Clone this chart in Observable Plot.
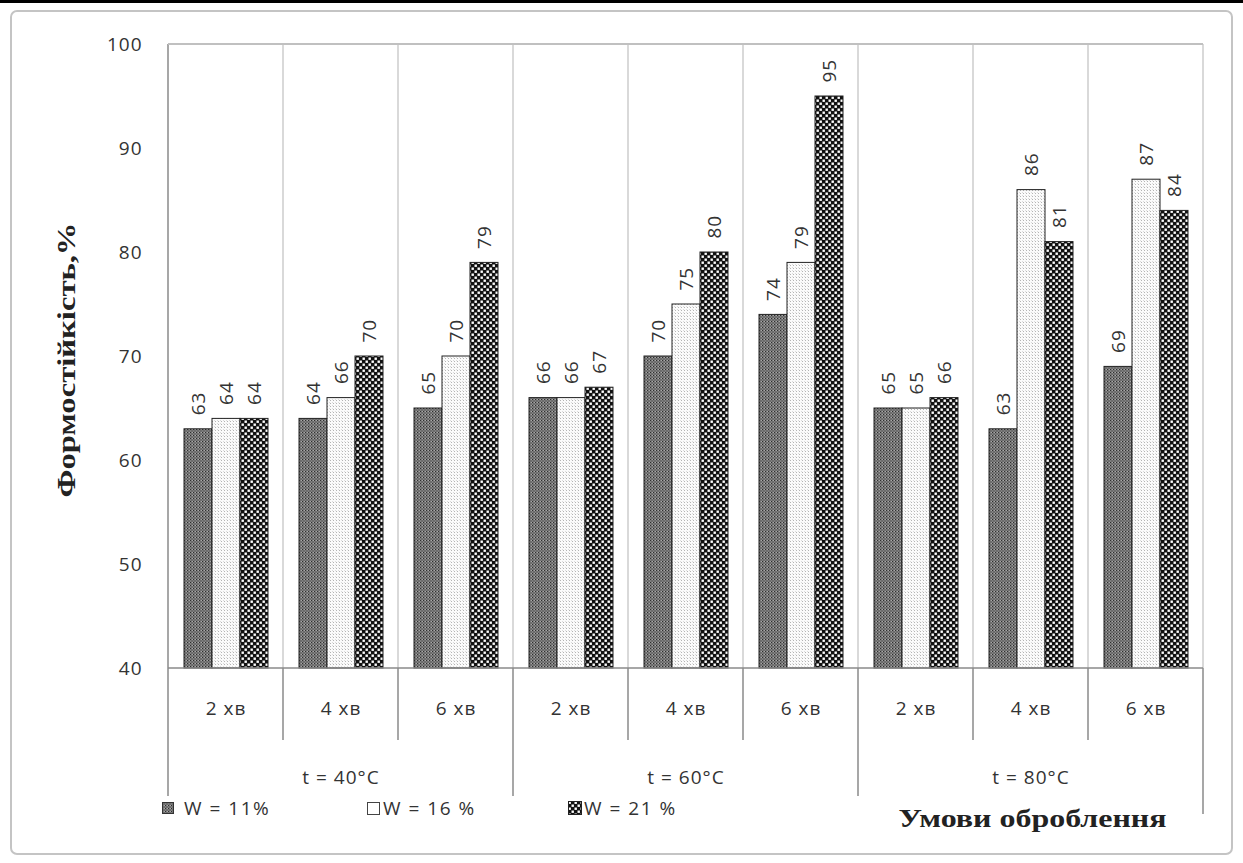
<!DOCTYPE html>
<html><head><meta charset="utf-8">
<script src="https://cdn.jsdelivr.net/npm/d3@7"></script>
<script src="https://cdn.jsdelivr.net/npm/@observablehq/plot@0.6"></script>
<style>
body{margin:0;background:#fff;}
#wrap{position:relative;width:1243px;height:863px;overflow:hidden;font-family:"Open Sans",sans-serif;color:#333;}
#topbar{position:absolute;left:0;top:0;width:1243px;height:3px;background:#000;}
#box{position:absolute;left:10px;top:10px;width:1219px;height:841px;border:2px solid #c4c4c4;border-radius:7px;}
#chart{position:absolute;left:0;top:0;}
.leg{position:absolute;top:797px;height:22px;font-size:19px;letter-spacing:1.5px;display:flex;align-items:center;color:#333;}
</style></head><body>
<svg width="0" height="0" style="position:absolute">
  <defs>
    <pattern id="p11" width="3" height="3" patternUnits="userSpaceOnUse">
      <rect width="3" height="3" fill="#7e7e7e"/>
      <rect x="0" y="0" width="1" height="1" fill="#2e2e2e"/>
      <rect x="1.5" y="1.5" width="1" height="1" fill="#3a3a3a"/>
      <rect x="2" y="0" width="1" height="1" fill="#a8a8a8"/>
    </pattern>
    <pattern id="p16" width="3" height="3" patternUnits="userSpaceOnUse">
      <rect width="3" height="3" fill="#fbfbfb"/>
      <rect x="1" y="1" width="1" height="1" fill="#b4b4b4"/>
      <rect x="0" y="0" width="1" height="1" fill="#dcdcdc"/>
    </pattern>
    <pattern id="p21" width="6" height="6" patternUnits="userSpaceOnUse">
      <rect width="6" height="6" fill="#111"/>
      <rect x="0.5" y="0.5" width="2.4" height="2.4" fill="#fff"/>
      <rect x="3.5" y="3.5" width="2.4" height="2.4" fill="#fff"/>
    </pattern>
  </defs>
</svg>
<div id="wrap">
  <div id="topbar"></div>
  <div id="box"></div>
  <div id="chart"></div>
  <div class="leg" style="left:162px"><svg width="12" height="12"><rect x="0.5" y="0.5" width="11" height="11" fill="url(#p11)" stroke="#333"/></svg><span style="margin-left:10px">W = 11%</span></div>
  <div class="leg" style="left:367px"><svg width="13" height="13"><rect x="0.5" y="0.5" width="12" height="12" fill="#fff" stroke="#444"/></svg><span style="margin-left:3px">W = 16 %</span></div>
  <div class="leg" style="left:568px"><svg width="14" height="14"><rect x="0.5" y="0.5" width="13" height="13" fill="url(#p21)" stroke="#222"/></svg><span style="margin-left:2px">W = 21 %</span></div>
</div>
<script>
// ---- data ----
const groups = ["t = 40°C", "t = 60°C", "t = 80°C"];
const times = ["2 хв", "4 хв", "6 хв"];
const series = ["W = 11%", "W = 16 %", "W = 21 %"];
const w11 = [63, 64, 65, 66, 70, 74, 65, 63, 69];
const w16 = [64, 66, 70, 66, 75, 79, 65, 86, 87];
const w21 = [64, 70, 79, 67, 80, 95, 66, 81, 84];
const yTicks = [40, 50, 60, 70, 80, 90, 100];
const yTitle = "Формостійкість,%";
const xTitle = "Умови оброблення";

const values = [w11, w16, w21];
const cells = d3.range(groups.length * times.length);
const rows = [];
cells.forEach(i => series.forEach((s, j) => rows.push({k: i, s, v: values[j][i]})));
const groupRows = groups.map((g, i) => ({k: i * times.length + 1, g}));

const W = 1243, H = 840, mL = 164, mR = 37, mT = 44, mB = 172;

const plot = Plot.plot({
  width: W, height: H,
  marginLeft: mL, marginRight: mR, marginTop: mT, marginBottom: mB,
  style: {fontFamily: "'Open Sans', sans-serif", fontSize: "19px", color: "#333", letterSpacing: "1px", background: "transparent"},
  fx: {domain: cells, padding: 0, axis: "bottom", tickSize: 0, tickPadding: 33, tickFormat: i => times[i % times.length], label: null, fontSize: 18},
  x: {domain: series, paddingInner: 0, paddingOuter: 0.53, axis: null},
  y: {domain: [40, 100], ticks: yTicks, tickSize: 0, tickPadding: 26, label: null},
  color: {type: "ordinal", domain: series, range: ["url(#p11)", "url(#p16)", "url(#p21)"]},
  marks: [
    Plot.barY(rows, {fx: "k", x: "s", y1: 40, y2: "v", fill: "s", stroke: "#222", strokeWidth: 1}),
    Plot.text(rows, {fx: "k", x: "s", y: "v", text: d => String(d.v), rotate: -90, textAnchor: "start", dy: -14, fill: "#333", fontSize: 19}),
    Plot.text(groupRows, {fx: "k", text: "g", frameAnchor: "bottom", dy: 115, fill: "#333", fontSize: 19})
  ]
});

// separators / frame lines built from the fx scale
const fx = plot.scale("fx");
const bw = fx.bandwidth;
const edges = cells.map(k => fx.apply(k)).concat([fx.apply(cells[cells.length - 1]) + bw]);
const svg = d3.select(plot);
const yS = plot.scale("y");
const yTop = yS.apply(100), yBot = yS.apply(40);
const g = svg.insert("g", ":first-child");
edges.forEach((x, i) => {
  g.append("line").attr("x1", x).attr("x2", x).attr("y1", yTop).attr("y2", yBot)
    .attr("stroke", i === 0 ? "#8a8a8a" : "#cdcdcd").attr("stroke-width", i === 0 ? 1.5 : 1.5);
});
g.append("line").attr("x1", edges[0]).attr("x2", edges[edges.length - 1]).attr("y1", yTop).attr("y2", yTop)
  .attr("stroke", "#c0c0c0").attr("stroke-width", 2);
const over = svg.append("g");
edges.forEach((x, i) => {
  const isGroup = i % times.length === 0;
  const y2 = i === edges.length - 1 ? yBot + 146 : isGroup ? yBot + 128 : yBot + 72;
  over.append("line").attr("x1", x).attr("x2", x).attr("y1", yBot).attr("y2", y2)
    .attr("stroke", "#8a8a8a").attr("stroke-width", 1.5);
});
over.append("line").attr("x1", edges[0]).attr("x2", edges[edges.length - 1]).attr("y1", yBot).attr("y2", yBot)
  .attr("stroke", "#8a8a8a").attr("stroke-width", 1.5);
over.append("text").text(yTitle)
  .attr("transform", `translate(75,${(yTop + yBot) / 2 + 4}) rotate(-90)`)
  .attr("text-anchor", "middle").attr("font-family", "'Liberation Serif', 'DejaVu Serif', serif")
  .attr("font-weight", "bold").attr("font-size", 26).attr("letter-spacing", 0)
  .attr("textLength", 275).attr("lengthAdjust", "spacingAndGlyphs").attr("fill", "#222");
over.append("text").text(xTitle)
  .attr("x", (edges[6] + edges[9]) / 2 + 2).attr("y", 827)
  .attr("text-anchor", "middle").attr("font-family", "'Liberation Serif', 'DejaVu Serif', serif")
  .attr("font-weight", "bold").attr("font-size", 26).attr("letter-spacing", 0)
  .attr("textLength", 268).attr("lengthAdjust", "spacingAndGlyphs").attr("fill", "#222");

document.getElementById("chart").append(plot);
</script>
</body></html>
